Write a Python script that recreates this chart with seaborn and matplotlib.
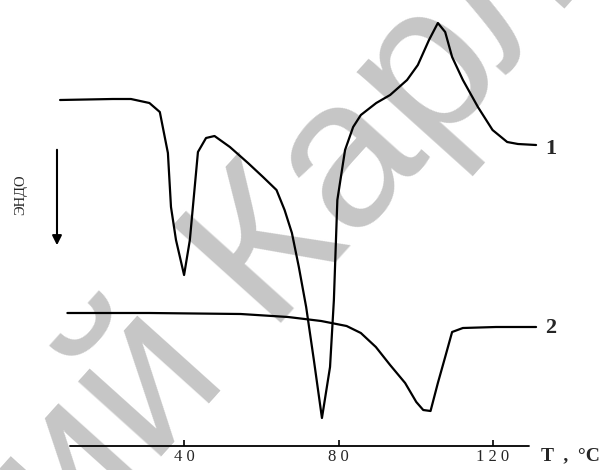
import seaborn as sns
import numpy as np
import matplotlib.pyplot as plt
import pandas as pd

# curve 1 (temperature, signal in arbitrary units)
t1 = [7.7, 21.4, 26.1, 30.9, 33.6, 35.7, 36.5, 37.8, 39.9, 41.4, 43.5, 45.6, 47.8,
      51.8, 56.5, 60.4, 63.9, 66.0, 67.9, 69.7, 71.6, 73.6, 75.7, 77.8, 78.8, 79.7,
      81.7, 83.8, 85.8, 89.8, 93.4, 97.8, 100.6, 103.5, 105.8, 107.7, 109.5, 112.3,
      116.2, 120.0, 123.8, 126.6, 131.3]
s1 = [34.6, 34.7, 34.7, 34.3, 33.4, 29.3, 23.9, 20.6, 17.1, 20.6, 29.4, 30.8, 31.0,
      29.9, 28.3, 26.9, 25.6, 23.6, 21.3, 17.9, 13.9, 8.6, 2.8, 7.9, 14.6, 24.6,
      29.6, 31.9, 33.1, 34.3, 35.1, 36.6, 38.1, 40.6, 42.3, 41.4, 38.9, 36.6,
      33.9, 31.6, 30.4, 30.2, 30.1]

# curve 2
t2 = [9.6, 30.9, 54.6, 66.9, 75.5, 82.1, 85.8, 89.7, 93.4, 97.3, 100.2, 102.0,
      103.9, 105.8, 107.7, 109.5, 112.3, 120.9, 131.3]
s2 = [13.3, 13.3, 13.2, 12.9, 12.5, 12.0, 11.3, 9.9, 8.1, 6.3, 4.4, 3.6,
      3.5, 6.3, 8.9, 11.4, 11.8, 11.9, 11.9]

ticks = [40, 80, 120]
tick_labels = ["4 0", "8 0", "1 2 0"]
curve_names = ["1", "2"]

sns.set_style("white")
plt.rcParams["font.family"] = ["Liberation Serif", "DejaVu Serif"]

df = pd.concat([
    pd.DataFrame({"T": t1, "s": s1, "curve": curve_names[0]}),
    pd.DataFrame({"T": t2, "s": s2, "curve": curve_names[1]}),
])

fig = plt.figure(figsize=(6.1, 4.7), dpi=100)
ax = fig.add_axes([0, 0, 1, 1])

# grey watermark behind everything
ax.text(67, 21.5, "ий Карл", rotation=48, fontsize=152, color="#c6c6c6",
        family="Liberation Sans", ha="center", va="center",
        rotation_mode="anchor", zorder=0)

sns.lineplot(data=df, x="T", y="s", hue="curve", palette=["black", "black"],
             legend=False, sort=False, estimator=None, lw=1.6, ax=ax, zorder=3)

# temperature axis
ax.plot([10.2, 129.5], [0, 0], color="black", lw=1.3)
ax.vlines(ticks, 0, 0.6, color="black", lw=1.2)
for t, lab in zip(ticks, tick_labels):
    ax.text(t, -1.1, lab, ha="center", va="center", fontsize=12)
ax.text(132.6, -1.0, "T  ,  °C", ha="left", va="center", fontsize=14, weight="bold")

# curve numbers
ax.text(133.6, 29.7, curve_names[0], ha="left", va="center", fontsize=16, weight="bold")
ax.text(133.6, 11.8, curve_names[1], ha="left", va="center", fontsize=16, weight="bold")

# endo arrow
ax.annotate("", xy=(6.9, 19.8), xytext=(6.9, 29.9),
            arrowprops=dict(arrowstyle="-|>", color="black", lw=1.5,
                            mutation_scale=14))
ax.text(-2.5, 25.1, "ЭНДО", rotation=90, ha="center", va="center", fontsize=10.5)

ax.set_xlim(-7.9, 150.5)
ax.set_ylim(-2.4, 44.6)
ax.axis("off")

fig.savefig("out.png", dpi=100)
